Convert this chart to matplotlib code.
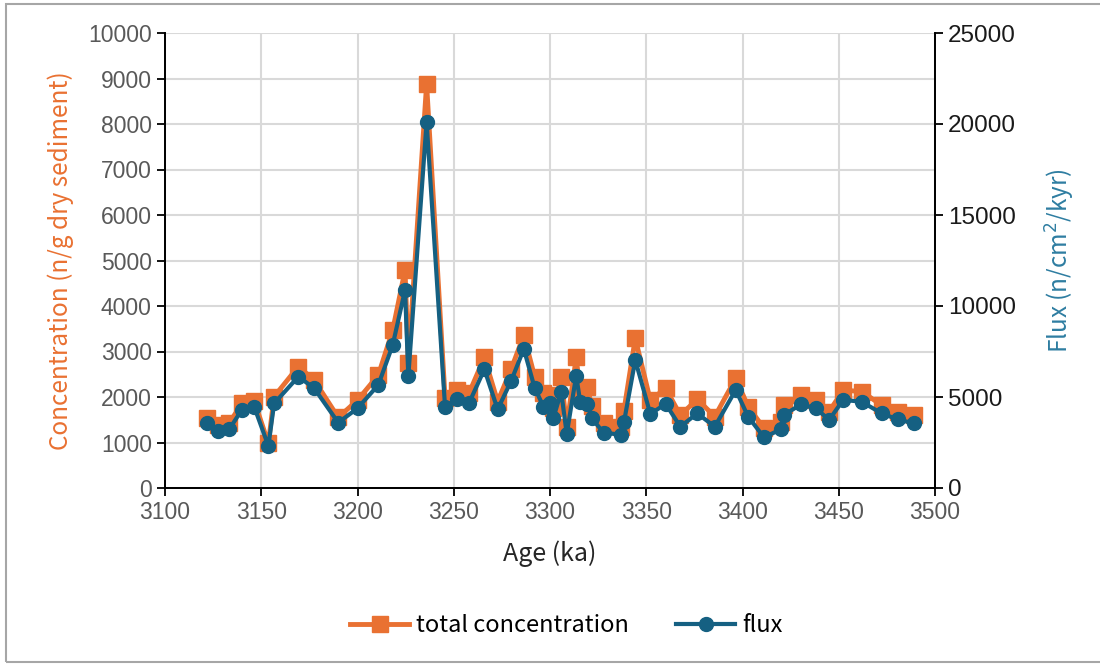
import matplotlib.pyplot as plt
from matplotlib.patches import Rectangle

age = [3122.0, 3127.6, 3133.3, 3139.9, 3146.3, 3153.7, 3156.7, 3169.3, 3177.5, 3190.0,
       3200.0, 3210.8, 3218.3, 3224.7, 3226.4, 3235.9, 3245.5, 3251.7, 3258.0, 3265.9,
       3272.8, 3279.8, 3286.4, 3292.0, 3296.6, 3300.1, 3301.8, 3305.8, 3308.7, 3313.6,
       3315.7, 3319.3, 3321.7, 3327.8, 3336.7, 3338.4, 3344.3, 3352.1, 3360.1, 3367.7,
       3376.5, 3385.6, 3396.5, 3402.9, 3411.2, 3420.2, 3421.5, 3430.4, 3438.1, 3445.0,
       3452.3, 3461.9, 3472.3, 3480.6, 3489.1]

concentration = [1530, 1390, 1420, 1860, 1920, 980, 2010, 2670, 2370, 1550,
                 1930, 2480, 3470, 4790, 2740, 8880, 1970, 2150, 2090, 2870,
                 1900, 2610, 3360, 2450, 2080, 2050, 1750, 2430, 1350, 2870,
                 2100, 2230, 1800, 1420, 1350, 1700, 3290, 1930, 2190, 1600,
                 1950, 1570, 2410, 1790, 1310, 1460, 1820, 2040, 1930, 1680,
                 2150, 2120, 1820, 1680, 1600]

flux = [3590, 3130, 3220, 4290, 4470, 2310, 4650, 6120, 5480, 3590,
        4380, 5660, 7860, 10880, 6150, 20110, 4430, 4890, 4680, 6520,
        4320, 5880, 7640, 5510, 4470, 4650, 3860, 5290, 2970, 6170,
        4740, 4620, 3830, 3040, 2930, 3600, 7030, 4070, 4620, 3370,
        4100, 3370, 5390, 3920, 2780, 3240, 4010, 4600, 4380, 3740,
        4840, 4740, 4100, 3770, 3550]

orange = "#E97132"
blue = "#156082"
cjk = ["Noto Sans CJK SC", "DejaVu Sans"]
tickfont = "Liberation Sans"

fig = plt.figure(figsize=(11, 6.64), dpi=100)
ax = fig.add_axes([165 / 1100, 1 - 488 / 664, 770 / 1100, 455 / 664])
ax2 = ax.twinx()

l1, = ax.plot(age, concentration, color=orange, lw=3.5, marker="s", ms=11,
              label="total concentration", zorder=3)
l2, = ax2.plot(age, flux, color=blue, lw=3, marker="o", ms=10,
               label="flux", zorder=4)

ax.set_xlim(3100, 3500)
ax.set_ylim(0, 10000)
ax2.set_ylim(0, 25000)
ax.set_xticks(range(3100, 3501, 50))
ax.set_yticks(range(0, 10001, 1000))
ax2.set_yticks(range(0, 25001, 5000))
ax.grid(True, color="#D9D9D9", lw=1.5)
ax.set_axisbelow(True)

for a in (ax, ax2):
    a.spines["top"].set_visible(False)
    for s in a.spines.values():
        s.set_color("black")
        s.set_linewidth(1.3)
ax.tick_params(axis="both", labelsize=16.5, colors="black", labelcolor="#595959",
               length=6, width=1.3)
ax2.tick_params(axis="y", labelsize=17.5, colors="black", labelcolor="#1A1A1A",
                length=6, width=1.3)
for lbl in ax.get_xticklabels() + ax.get_yticklabels() + ax2.get_yticklabels():
    lbl.set_fontfamily(tickfont)

ax.set_xlabel("Age (ka)", fontsize=18, family=cjk, color="#262626",
              fontweight="light", labelpad=12)
ax.set_ylabel("Concentration (n/g dry sediment)", fontsize=17.5, family=cjk,
              color=orange, fontweight="light", labelpad=10)
ax2.set_ylabel("Flux (n/cm$^2$/kyr)", fontsize=17.5, family=cjk, color="#2E7DA1",
               fontweight="light", labelpad=20)

fig.legend([l1, l2], ["total concentration", "flux"], loc="center",
           bbox_to_anchor=(0.515, 1 - 626 / 664), ncol=2, frameon=False,
           prop={"family": cjk, "size": 17, "weight": "light"},
           handlelength=2.5, columnspacing=2.0, handletextpad=0.3)

fig.patches.append(Rectangle((6 / 1100, 2 / 664), 1100 / 1100, 658 / 664,
                             transform=fig.transFigure, fill=False,
                             edgecolor="#A6A6A6", lw=1.5))

fig.savefig("out.png", dpi=100)
